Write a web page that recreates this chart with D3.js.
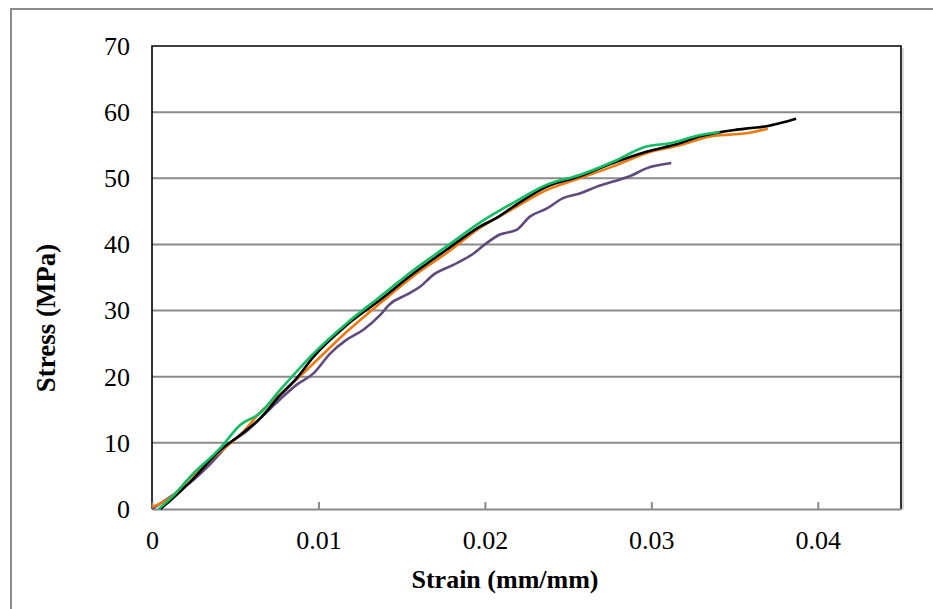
<!DOCTYPE html>
<html>
<head>
<meta charset="utf-8">
<script src="https://cdn.jsdelivr.net/npm/d3@7"></script>
<style>
  body { margin: 0; background: #fff; }
  text { font-family: "Liberation Serif", "Times New Roman", serif; fill: #000; }
</style>
</head>
<body>
<script>
// stress-strain curves, [strain, stress]
var blackPts = [[0.0005,0],[0.0012,1.5],[0.0023,4.1],[0.0041,8.9],[0.0053,11.2],[0.0065,13.7],
  [0.0077,17.2],[0.0087,19.8],[0.0097,23.0],[0.0117,27.8],[0.0137,31.6],[0.0157,35.6],
  [0.0177,39.2],[0.0197,42.7],[0.0207,44.0],[0.0217,45.7],[0.0237,48.7],[0.0257,50.3],
  [0.0277,52.3],[0.0297,54.0],[0.0317,55.3],[0.0329,56.3],[0.0340,56.9],[0.0350,57.3],
  [0.0360,57.6],[0.0370,57.9],[0.0380,58.5],[0.0387,59.0]];
var orangePts = [[0,0.3],[0.0011,1.7],[0.0023,4.7],[0.0041,8.7],[0.0053,11.2],[0.0065,14.6],
  [0.0077,17.3],[0.0097,22.0],[0.0117,26.8],[0.0137,31.1],[0.0157,35.2],[0.0177,38.7],
  [0.0197,42.5],[0.0217,45.4],[0.0237,48.2],[0.0257,50.0],[0.0277,51.8],[0.0297,53.8],
  [0.0317,55.0],[0.0337,56.4],[0.0347,56.6],[0.0357,56.8],[0.0370,57.5]];
var greenPts = [[0.0004,0],[0.0012,1.8],[0.0023,4.9],[0.0041,9.2],[0.0053,12.7],[0.0065,14.5],
  [0.0077,18.0],[0.0097,23.5],[0.0117,28.1],[0.0137,32.1],[0.0157,36.1],[0.0177,39.7],
  [0.0197,43.3],[0.0217,46.3],[0.0237,49.0],[0.0257,50.5],[0.0277,52.5],[0.0297,54.8],
  [0.0311,55.3],[0.0329,56.5],[0.0341,57.0]];
var purplePts = [[0,0],[0.0013,2.2],[0.0023,4.0],[0.0035,6.8],[0.0047,10.0],[0.0057,11.8],
  [0.0067,14.2],[0.0077,16.6],[0.0087,18.8],[0.0097,20.5],[0.0107,23.5],[0.0117,25.6],
  [0.0127,27.1],[0.0137,29.3],[0.0143,31.0],[0.0153,32.4],[0.0161,33.6],[0.0169,35.4],
  [0.0181,36.9],[0.0193,38.6],[0.0201,40.2],[0.0209,41.5],[0.0219,42.2],[0.0227,44.2],
  [0.0237,45.4],[0.0247,47.0],[0.0257,47.7],[0.0267,48.7],[0.0277,49.5],[0.0287,50.3],
  [0.0297,51.5],[0.0312,52.3]];

var series = [
  {name: 'purple', pts: purplePts, color: '#604a7b'},
  {name: 'orange', pts: orangePts, color: '#ee7a0f'},
  {name: 'black',  pts: blackPts,  color: '#000000'},
  {name: 'green',  pts: greenPts,  color: '#12bd63'}
];

var xTicks = [0, 0.01, 0.02, 0.03, 0.04];
var yTicks = [0, 10, 20, 30, 40, 50, 60, 70];
var xTitle = 'Strain (mm/mm)';
var yTitle = 'Stress (MPa)';

var width = 933, height = 609;
var plotL = 152, plotR = 901, plotT = 46, plotB = 509;

var svg = d3.select("body").append("svg")
  .attr("width", width)
  .attr("height", height);

// outer chart border
svg.append("rect")
  .attr("x", 11).attr("y", 9)
  .attr("width", 960).attr("height", 640)
  .attr("fill", "none")
  .attr("stroke", "#8c8c8c")
  .attr("stroke-width", 2);

var x = d3.scaleLinear().domain([0, 0.045]).range([plotL, plotR]);
var y = d3.scaleLinear().domain([0, 70]).range([plotB, plotT]);

// gridlines
svg.append("g").selectAll("line")
  .data(yTicks.slice(1, -1))
  .enter().append("line")
  .attr("x1", plotL).attr("x2", plotR)
  .attr("y1", function(d) { return y(d); })
  .attr("y2", function(d) { return y(d); })
  .attr("stroke", "#8a8a8a")
  .attr("stroke-width", 2);

// plot border
svg.append("line").attr("x1", plotR + 2).attr("x2", plotR + 2)
  .attr("y1", plotT + 2).attr("y2", plotB + 1)
  .attr("stroke", "#d9d9d9").attr("stroke-width", 2);
svg.append("path")
  .attr("d", "M" + plotL + "," + plotB + "V" + plotT + "H" + plotR + "V" + plotB)
  .attr("fill", "none").attr("stroke", "#000").attr("stroke-width", 1.6);

// x axis (gray, ticks pointing up)
var xAxis = svg.append("g")
  .attr("transform", "translate(0," + plotB + ")")
  .call(d3.axisBottom(x).tickValues(xTicks).tickSizeInner(-7).tickSizeOuter(0)
    .tickFormat(function(d) { return d === 0 ? "0" : d3.format(".2f")(d); }));
xAxis.select(".domain").attr("stroke", "#8a8a8a").attr("stroke-width", 2);
xAxis.selectAll(".tick line").attr("stroke", "#8a8a8a").attr("stroke-width", 2);
xAxis.selectAll(".tick text")
  .attr("y", 22).attr("dy", "0.71em")
  .style("font-size", "26px")
  .style("font-family", '"Liberation Serif", serif');

// y axis labels
var yAxis = svg.append("g")
  .attr("transform", "translate(" + plotL + ",0)")
  .call(d3.axisLeft(y).tickValues(yTicks).tickSize(0).tickPadding(22));
yAxis.select(".domain").remove();
yAxis.selectAll(".tick text")
  .style("font-size", "26px")
  .style("font-family", '"Liberation Serif", serif');

// titles
svg.append("text")
  .attr("x", 505).attr("y", 588)
  .attr("text-anchor", "middle")
  .style("font-size", "26px").style("font-weight", "bold")
  .text(xTitle);
svg.append("text")
  .attr("transform", "translate(55,318) rotate(-90)")
  .attr("text-anchor", "middle")
  .style("font-size", "27px").style("font-weight", "bold")
  .text(yTitle);

// curves
var line = d3.line()
  .x(function(d) { return x(d[0]); })
  .y(function(d) { return y(d[1]); })
  .curve(d3.curveMonotoneX);

svg.append("g").selectAll("path")
  .data(series)
  .enter().append("path")
  .attr("d", function(d) { return line(d.pts); })
  .attr("fill", "none")
  .attr("stroke", function(d) { return d.color; })
  .attr("stroke-width", 2.6)
  .attr("stroke-linejoin", "round");
</script>
</body>
</html>
